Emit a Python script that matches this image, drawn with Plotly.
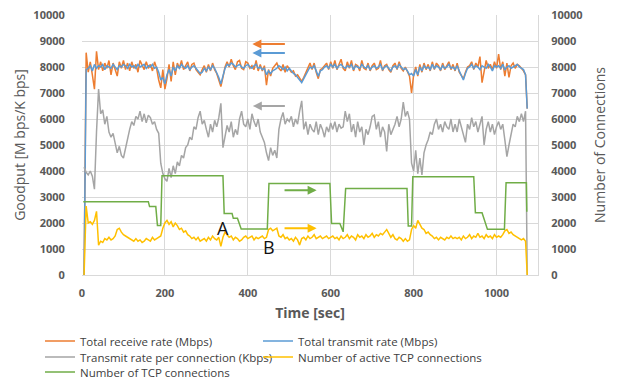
import plotly.graph_objects as go

# sampling grid (seconds)
t = list(range(5, 1075, 5)) + [1074]

recv = [
    0, 8550, 7800, 8200, 7700, 7150, 8600, 7900, 8200, 7850, 8150, 7950, 8250, 7700, 8150, 7900, 7650, 8200, 7950, 8250,
    7900, 8150, 7850, 8200, 7950, 8100, 7800, 8250, 8050, 7900, 8200, 7950, 8100, 7850, 8200, 7950, 7500, 7200, 7900, 7150,
    7550, 8100, 7450, 8200, 7700, 8150, 7950, 8250, 7900, 8050, 8200, 7850, 8100, 8150, 7900, 7800, 7700, 7900, 8050, 7800,
    8100, 7850, 8150, 7900, 7750, 7500, 7250, 7600, 8000, 8200, 8000, 8300, 8050, 7900, 8200, 8250, 7950, 7900, 8200, 8150,
    7950, 8050, 7900, 8250, 7850, 8100, 7850, 8050, 7300, 7900, 7650, 7950, 8050, 8150, 7950, 7850, 8100, 7800, 8050, 7900,
    7800, 7850, 7650, 7700, 7550, 7450, 7600, 7800, 8000, 8150, 7900, 8150, 7800, 7550, 7900, 7950, 8050, 8150, 7900, 8200,
    7950, 8250, 7900, 8100, 8300, 7950, 7850, 8200, 7950, 8250, 7850, 8100, 8050, 7850, 8250, 7950, 7900, 8150, 7850, 8050,
    8150, 7900, 7950, 8250, 7850, 8050, 8100, 7900, 7800, 8050, 8150, 7900, 8200, 7950, 7850, 8000, 7800, 7650, 7000, 7700,
    8000, 7650, 8100, 7800, 8150, 7900, 8100, 7850, 8200, 7900, 8150, 8050, 7850, 8150, 7900, 8050, 8200, 7900, 8100, 7850,
    8150, 7800, 7650, 7550, 7800, 8000, 8050, 8200, 7900, 8150, 8000, 8400, 7400, 7850, 8250, 7950, 8100, 7900, 8200, 7950,
    8500, 7900, 8200, 7650, 8150, 7600, 8050, 8150, 7950, 8100, 8050, 7950, 7850, 7700, 6400,
]

trans = [
    0, 7900, 7950, 8050, 7850, 8100, 7950, 8050, 8000, 8100, 7900, 8050, 8000, 7950, 8100, 8000, 7900, 8050, 8000, 8100,
    8050, 7950, 8100, 8000, 8050, 7950, 8100, 8000, 8050, 8100, 7950, 8050, 8000, 8100, 7950, 8000, 7800, 7500, 7600, 7350,
    7700, 7900, 7650, 8000, 7850, 8050, 7950, 8100, 8000, 7950, 8050, 7900, 8000, 8050, 7950, 7850, 7750, 7800, 7950, 7850,
    8000, 7900, 8050, 7950, 7800, 7600, 7350, 7700, 7950, 8100, 8050, 8150, 8100, 8000, 8050, 8100, 8000, 7950, 8050, 8100,
    8000, 7950, 8050, 8100, 7950, 8000, 7900, 7950, 7700, 7850, 7750, 7850, 7900, 7950, 8050, 8000, 7900, 8000, 7850, 7950,
    7850, 7750, 7700, 7600, 7500, 7400, 7550, 7700, 7900, 8000, 7950, 8050, 7850, 7650, 7850, 7900, 8000, 8050, 7950, 8100,
    8000, 8100, 7950, 8050, 8100, 8000, 7950, 8050, 8000, 8100, 7900, 8050, 8000, 7950, 8100, 8000, 7950, 8050, 7900, 8000,
    8050, 7950, 8000, 8100, 7900, 8000, 8050, 7950, 7850, 8000, 8050, 7950, 8100, 8000, 7900, 7950, 7850, 7700, 7750, 7650,
    7900, 7700, 8000, 7850, 8050, 7950, 8000, 7900, 8100, 7950, 8050, 8000, 7900, 8050, 7950, 8000, 8100, 7950, 8000, 7900,
    8050, 7850, 7700, 7500, 7750, 7950, 8000, 8100, 7950, 8050, 8000, 7900, 8050, 8000, 7950, 8100, 8000, 7850, 8050, 8000,
    8050, 7950, 8100, 7900, 8000, 8050, 7950, 8000, 8050, 8100, 8000, 7950, 7900, 7700, 6400,
]

per_conn = [
    4150, 3950, 3850, 4000, 3800, 3300, 5500, 7150, 6200, 6350, 5800, 6100, 5500, 5300, 5450, 5000, 4700, 4950, 4600, 4500,
    4900, 5300, 5600, 5900, 5750, 6100, 6000, 6300, 5900, 6200, 5850, 6150, 6050, 5800, 5900, 5600, 5450, 4300, 3900, 3700,
    3600, 4100, 3750, 4200, 3900, 4350, 4200, 4600, 4500, 4900, 5000, 5300, 5200, 5700, 5600, 6050, 6300, 5800, 5950, 5600,
    5300, 5800, 5500, 5950, 5700, 6050, 6600, 4900, 5400, 5750, 5500, 5900, 5300, 5600, 5400, 6000, 6300, 5800, 5700, 6000,
    5600, 6200, 5900, 5700, 6000, 5500, 5300, 5100, 4700, 4400, 4900, 4600, 4800, 4500, 5600, 6000, 6250, 5800, 6000, 5900,
    6100, 5700, 6000, 5800, 6300, 6700, 5600, 5900, 5400, 5800, 5600, 5500, 5900, 5400, 5800, 5600, 5300, 5700, 5500, 5850,
    5600, 5900, 5500, 5800, 5650, 5700, 6300, 5900, 6200, 5500, 5800, 5300, 5900, 5500, 5700, 5000, 5600, 5400, 5700, 6100,
    6150, 5600, 5900, 5300, 5700, 5500, 4750, 5800, 5400, 5600, 5800, 6100, 5700, 6000, 6650, 6100, 6300, 6000, 4300, 4000,
    4800, 3900, 4500, 3850, 4700, 5000, 5200, 5500, 5400, 5800, 6000, 5600, 5800, 5500, 5900, 5700, 5600, 6000, 5500, 5800,
    5500, 6000, 5700, 5400, 5100, 5800, 5600, 6050, 5700, 5900, 5500, 5800, 6100, 5000, 5600, 5900, 5500, 5800, 5400, 5700,
    5900, 5600, 5800, 5200, 4550, 5000, 5400, 5800, 5700, 6100, 5900, 6200, 5900, 6300, 0,
]

active = [
    0, 2650, 2000, 2050, 1950, 2100, 2450, 1150, 1300, 1250, 1400, 1350, 1450, 1350, 1400, 1500, 1750, 1800, 1650, 1550,
    1500, 1450, 1400, 1350, 1300, 1400, 1300, 1350, 1250, 1300, 1400, 1350, 1300, 1450, 1350, 1400, 1450, 1500, 1800, 2000,
    2100, 1950, 2050, 1850, 2000, 1900, 1750, 1800, 1650, 1700, 1550, 1500, 1400, 1450, 1350, 1450, 1300, 1350, 1400, 1300,
    1450, 1350, 1500, 1400, 1350, 1450, 1100, 1450, 1650, 1550, 1450, 1500, 1350, 1450, 1400, 1300, 1350, 1450, 1500, 1400,
    1450, 1500, 1350, 1450, 1400, 1450, 1500, 1400, 1450, 1750, 1800, 1700, 1750, 1800, 1500, 1450, 1550, 1400, 1450, 1350,
    1400, 1300, 1450, 1350, 1150, 1400, 1450, 1350, 1500, 1400, 1450, 1550, 1400, 1450, 1500, 1400, 1450, 1500, 1400, 1450,
    1500, 1400, 1450, 1350, 1500, 1400, 1450, 1550, 1400, 1500, 1450, 1350, 1550, 1450, 1500, 1400, 1550, 1450, 1500, 1600,
    1450, 1550, 1500, 1600, 1550, 1650, 1750, 1600, 1450, 1550, 1400, 1350, 1450, 1400, 1300, 1400, 1300, 1350, 1750, 1900,
    1800, 2100, 1950, 1800, 1750, 1600, 1650, 1550, 1500, 1400, 1450, 1350, 1450, 1400, 1350, 1450, 1400, 1500, 1400, 1450,
    1400, 1450, 1350, 1500, 1400, 1450, 1550, 1400, 1500, 1450, 1600, 1450, 1500, 1400, 1550, 1450, 1500, 1400, 1550, 1450,
    1500, 1450, 1550, 1700, 1750, 1600, 1650, 1550, 1500, 1450, 1400, 1350, 1400, 1300, 0,
]

conn_t = [3, 160, 163, 178, 182, 190, 193, 340, 343, 362, 365, 375, 384, 447, 451, 598, 602, 622, 630, 636,
          784, 787, 795, 798, 945, 949, 965, 970, 978, 1019, 1023, 1072, 1073]
conn_v = [2820, 2820, 2630, 2630, 1900, 1900, 3820, 3820, 2370, 2370, 2180, 2180, 1770, 1770, 3520, 3520, 1980, 1980, 1660, 3330,
          3330, 1880, 1880, 3780, 3780, 2390, 2390, 2150, 1760, 1760, 3550, 3550, 2430]

names = ["Total receive rate (Mbps)", "Total transmit rate (Mbps)",
         "Transmit rate per connection (Kbps)", "Number of active TCP connections",
         "Number of TCP connections"]
colors = ["#ED7D31", "#5B9BD5", "#A5A5A5", "#FFC000", "#70AD47"]

assert len(t) == len(recv) == len(trans) == len(per_conn) == len(active)
assert len(conn_t) == len(conn_v)

FONT = "Open Sans"
GRAY = "#595959"
GRID = "#D9D9D9"

# plot-area geometry in pixels (used for legend placement)
W, H = 619, 380
ML, MR, MT, MB = 82, 81, 15, 105
PW, PH = W - ML - MR, H - MT - MB


def px_x(px):
    return (px - ML) / PW


def px_y(py):
    return (H - MB - py) / PH


fig = go.Figure()
series = [(t, recv, "y", "legend"), (t, trans, "y", "legend2"), (t, per_conn, "y", "legend3"),
          (t, active, "y2", "legend4"), (conn_t, conn_v, "y2", "legend5")]
for i, (xs, ys, ax, lg) in enumerate(series):
    fig.add_trace(go.Scatter(x=xs, y=ys, name=names[i], mode="lines",
                             line=dict(color=colors[i], width=1.5), yaxis=ax, legend=lg))

tickfont = dict(family=FONT, size=11, color=GRAY, weight="bold")

# legend cells: (left px of item, centre-y px)
cells = [(40, 341), (258, 341), (40, 357), (258, 357), (40, 372)]
legend_font = dict(family=FONT, size=11.5, color="#404040")
legend_layout = {}
for i, (lx, ly) in enumerate(cells):
    key = "legend" if i == 0 else f"legend{i + 1}"
    legend_layout[key] = dict(orientation="v", x=px_x(lx), y=px_y(ly), xanchor="left", yanchor="middle",
                              font=legend_font, bgcolor="rgba(0,0,0,0)", itemwidth=30)

fig.update_layout(
    width=W, height=H,
    margin=dict(l=ML, r=MR, t=MT, b=MB, autoexpand=False),
    paper_bgcolor="white", plot_bgcolor="white",
    font=dict(family=FONT, color=GRAY),
    xaxis=dict(range=[0, 1100], tickvals=[0, 200, 400, 600, 800, 1000], automargin=False,
               showgrid=True, gridcolor=GRID, gridwidth=1,
               showline=True, linecolor=GRID, linewidth=1,
               zeroline=False, ticks="outside", ticklen=8, tickcolor="rgba(0,0,0,0)",
               tickfont=tickfont,
               title=dict(text="Time [sec]", font=dict(family=FONT, size=14, color=GRAY, weight="bold"), standoff=8)),
    yaxis=dict(range=[0, 10000], dtick=1000, tickformat="d", automargin=False,
               showgrid=True, gridcolor=GRID, gridwidth=1,
               zeroline=False, showline=False,
               ticks="outside", ticklen=14, tickcolor="rgba(0,0,0,0)",
               tickfont=tickfont,
               title=dict(text="Goodput [M bps/K bps]", font=dict(family=FONT, size=14, color=GRAY), standoff=4)),
    yaxis2=dict(range=[0, 10000], dtick=1000, tickformat="d", automargin=False,
                overlaying="y", side="right", showgrid=False,
                zeroline=False, showline=True, linecolor=GRID, linewidth=1,
                ticks="outside", ticklen=10, tickcolor="rgba(0,0,0,0)",
                tickfont=tickfont,
                title=dict(text="Number of Connections", font=dict(family=FONT, size=14, color=GRAY), standoff=13)),
    showlegend=True,
    **legend_layout,
)

# arrows pointing to the axis each series belongs to
arrows = [
    (411, 8880, 493, 8880, colors[0]),
    (411, 8540, 493, 8540, colors[1]),
    (412, 6500, 493, 6500, colors[2]),
    (566, 3260, 485, 3260, colors[4]),
    (566, 1800, 485, 1800, colors[3]),
]
for hx, hy, tx, ty, c in arrows:
    fig.add_annotation(x=hx, y=hy, ax=tx, ay=ty, xref="x", yref="y", axref="x", ayref="y",
                       showarrow=True, arrowhead=2, arrowsize=0.9, arrowwidth=2, arrowcolor=c, text="")

fig.add_annotation(x=340, y=1800, xref="x", yref="y", text="A", showarrow=False,
                   font=dict(family=FONT, size=18, color="#111111"))
fig.add_annotation(x=450, y=1090, xref="x", yref="y", text="B", showarrow=False,
                   font=dict(family=FONT, size=18, color="#111111"))

fig.write_html("out.html", config={"displayModeBar": False},
               post_script="document.body.style.margin='0px';document.body.style.overflow='hidden';")
